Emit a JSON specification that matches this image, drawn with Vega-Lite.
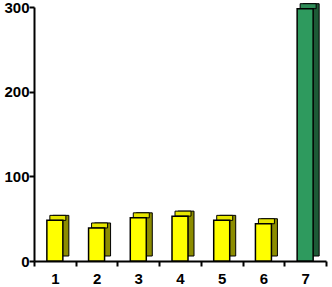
{
  "$schema": "https://vega.github.io/schema/vega-lite/v6.json",
  "width": 292,
  "height": 254,
  "autosize": "none",
  "padding": {"left": 34, "top": 7, "right": 6, "bottom": 26},
  "background": "white",
  "data": {"values": [
    {"cat": "1", "value": 48},
    {"cat": "2", "value": 39},
    {"cat": "3", "value": 51},
    {"cat": "4", "value": 53},
    {"cat": "5", "value": 48},
    {"cat": "6", "value": 44},
    {"cat": "7", "value": 298}
  ]},
  "config": {
    "view": {"stroke": null},
    "axis": {"labelFont": "Liberation Sans", "labelFontWeight": "bold", "labelFontSize": 15, "labelColor": "black", "domainColor": "black", "domainWidth": 2, "tickColor": "black", "tickWidth": 2, "grid": false, "title": null}
  },
  "encoding": {
    "x": {"field": "cat", "type": "ordinal", "scale": {"paddingInner": 0, "paddingOuter": 0}, "axis": {"labelAngle": 0, "tickBand": "extent", "tickSize": 5, "labelPadding": 5}},
    "y": {"field": "value", "type": "quantitative", "scale": {"domain": [0, 300], "nice": false}, "axis": {"values": [0, 100, 200, 300], "tickSize": 5, "labelPadding": 0}}
  },
  "layer": [
    {
      "mark": {"type": "bar", "size": 16, "xOffset": 6, "yOffset": -5, "stroke": "black", "strokeWidth": 1},
      "encoding": {"color": {"condition": {"test": "datum.cat == '7'", "value": "#1d5a36"}, "value": "#8c8c00"}}
    },
    {
      "mark": {"type": "tick", "size": 16, "thickness": 5, "xOffset": 3, "yOffset": -2.5, "stroke": "black", "strokeWidth": 1, "opacity": 1},
      "encoding": {"color": {"condition": {"test": "datum.cat == '7'", "value": "#2e8b57"}, "value": "#e6e600"}}
    },
    {
      "mark": {"type": "bar", "size": 16, "stroke": "black", "strokeWidth": 1.5},
      "encoding": {"color": {"condition": {"test": "datum.cat == '7'", "value": "#2e9a5e"}, "value": "#ffff00"}}
    }
  ]
}
